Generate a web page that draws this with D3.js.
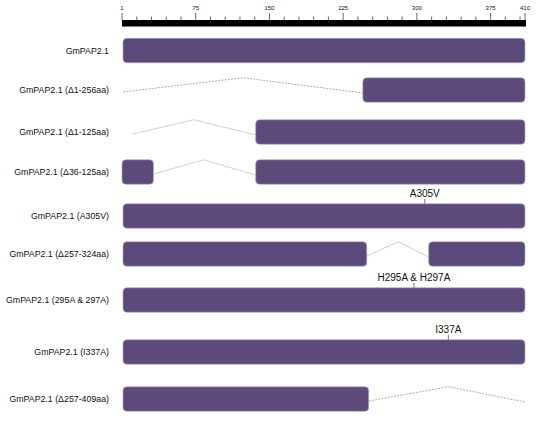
<!DOCTYPE html>
<html><head><meta charset="utf-8">
<script src="https://cdn.jsdelivr.net/npm/d3@7"></script>
<style>body{margin:0;background:#fff}svg{display:block}</style>
</head><body>
<script>
// ---- data ----
const constructs = ["GmPAP2.1","GmPAP2.1 (\u03941-256aa)","GmPAP2.1 (\u03941-125aa)","GmPAP2.1 (\u039436-125aa)","GmPAP2.1 (A305V)","GmPAP2.1 (\u0394257-324aa)","GmPAP2.1 (295A & 297A)","GmPAP2.1 (I337A)","GmPAP2.1 (\u0394257-409aa)"];
// retained segments [start, end] in aa, per construct
const segments = [
  [[1,410]],
  [[245,410]],
  [[136,410]],
  [[0,32],[136,410]],
  [[1,410]],
  [[1,249],[312,410]],
  [[1,410]],
  [[1,410]],
  [[1,251]]
];
// deletion connectors [from, peak, to] in aa
const deletions = [
  null,
  [1,123,245],
  [11,73,136],
  [32,83,136],
  null,
  [249,281,312],
  null,
  null,
  [251,332,410]
];
const dashed = [false,true,false,false,false,false,false,false,true];
// point mutations [label, position aa]
const mutations = [null,null,null,null,["A305V",308],null,["H295A & H297A",297],["I337A",332],null];
const majorTicks = [1,75,150,225,300,375,410];
const minorTicks = [15,30,45,60,90,105,120,135,165,180,195,210,240,255,270,285,315,330,345,360,390,405];

// ---- layout ----
const W=540,H=421;
const svg=d3.select("body").append("svg").attr("width",W).attr("height",H);
const x=d3.scaleLinear().domain([0,410]).range([122,525]);
const rowCenters=[50.5,90,132,172,216,254,300,352,399];
const y=d3.scaleOrdinal().domain(constructs).range(rowCenters);
const barH=24.5;
const font="Liberation Sans, Arial, Helvetica, sans-serif";

// ruler
svg.append("rect").attr("x",x(0)).attr("y",20).attr("width",x(410)-x(0)+1).attr("height",6.5).attr("fill","#000");
svg.selectAll(".maj").data(majorTicks).join("line")
  .attr("x1",d=>x(d===1?0:d)).attr("x2",d=>x(d===1?0:d)).attr("y1",13).attr("y2",20)
  .attr("stroke","#000").attr("stroke-width",0.6);
svg.selectAll(".min").data(minorTicks).join("line")
  .attr("x1",d=>x(d)).attr("x2",d=>x(d)).attr("y1",16.5).attr("y2",20)
  .attr("stroke","#000").attr("stroke-width",0.6);
svg.selectAll(".tl").data(majorTicks).join("text")
  .attr("x",d=>x(d===1?0:d)).attr("y",9.5).attr("text-anchor","middle")
  .attr("font-family",font).attr("font-size",6).attr("fill","#111").text(d=>d);

// rows
constructs.forEach((name,i)=>{
  const cy=y(name);
  const g=svg.append("g");
  g.append("text").attr("x",109).attr("y",cy).attr("dy","0.35em").attr("text-anchor","end")
    .attr("font-family",font).attr("font-size",8.8).attr("fill","#111").text(name);
  const del=deletions[i];
  if(del){
    const pts=[[x(del[0]),cy+2],[x(del[1]),cy-barH/2],[x(del[2]),cy+3]];
    g.append("path").attr("d",d3.line()(pts)).attr("fill","none")
      .attr("stroke",dashed[i]?"#999":"#c4c4c4").attr("stroke-width",0.8)
      .attr("stroke-dasharray",dashed[i]?"2,1.2":null);
  }
  g.selectAll("rect").data(segments[i]).join("rect")
    .attr("x",d=>x(d[0])).attr("y",cy-barH/2).attr("width",d=>x(d[1])-x(d[0])).attr("height",barH)
    .attr("rx",4).attr("fill","#5c4a7a").attr("stroke","#b3a8c8").attr("stroke-width",0.6);
  const m=mutations[i];
  if(m){
    const mx=x(m[1]);
    g.append("line").attr("x1",mx).attr("x2",mx).attr("y1",cy-barH/2-5).attr("y2",cy-barH/2)
      .attr("stroke","#444").attr("stroke-width",0.7);
    g.append("text").attr("x",mx).attr("y",cy-barH/2-6.5).attr("text-anchor","middle")
      .attr("font-family",font).attr("font-size",10).attr("fill","#111").text(m[0]);
  }
});
</script>
</body></html>
